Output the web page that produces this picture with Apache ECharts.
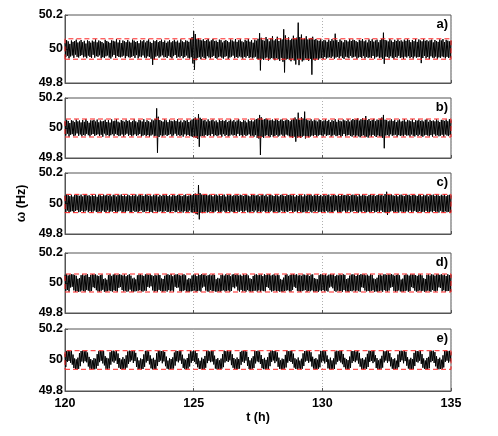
<!DOCTYPE html>
<html>
<head>
<meta charset="utf-8">
<script src="https://cdn.jsdelivr.net/npm/echarts@6/dist/echarts.min.js"></script>
<style>html,body{margin:0;padding:0;background:#fff}#c{width:498px;height:436px}</style>
</head>
<body>
<div id="c"></div>
<script>
// ---- data: deviations from 50 Hz in mHz, evenly sampled from t = 120 h to t = 135 h ----
const T_START = 120;
const T_END = 135;
const NOMINAL = 50;
const xTicks = [120, 125, 130, 135];
const yTicks = [49.8, 50, 50.2];
const bandLimits = [49.94, 50.06];
const panelLabels = ['a)', 'b)', 'c)', 'd)', 'e)'];

const devA = [
35,-48,52,-40,45,-55,30,-44,50,-38,42,-52,47,-33,55,-46,38,-50,44,-41,
53,-36,40,-49,48,-45,32,-54,51,-39,46,-47,37,-53,49,-34,43,-51,56,-42,
39,-46,50,-37,45,-55,41,-48,33,-52,54,-43,47,-38,42,-50,36,-56,51,-44,
48,-35,44,-53,57,-41,38,-47,52,-49,35,-45,50,-39,46,-54,40,-42,53,-48,
43,-51,37,-46,55,-40,49,-52,41,-36,47,-55,34,-44,51,-48,45,-38,52,-50,
38,-54,48,-43,56,-47,42,-57,35,-93,50,-62,46,-45,53,-39,40,-51,47,-44,
55,-37,41,-49,50,-46,36,-53,44,-40,52,-48,39,-55,46,-42,54,-35,43,-52,
49,-45,37,-50,56,-41,45,-54,40,-47,51,-38,48,-52,42,-56,60,-48,70,-85,
106,-122,88,-66,58,-52,62,-48,55,-60,50,-45,57,-53,47,-58,52,-42,59,-50,
44,-55,51,-47,58,-40,46,-53,49,-57,41,-48,55,-44,52,-51,38,-56,48,-46,
53,-42,47,-58,40,-50,56,-45,50,-39,44,-54,59,-47,42,-52,51,-43,57,-49,
45,-56,39,-46,54,-51,48,-41,58,-53,43,-48,52,-55,37,-50,55,-45,49,-58,
60,-62,93,-126,66,-58,52,-64,48,-55,70,-50,57,-68,45,-60,62,-53,75,-57,
50,-66,58,-54,72,-60,47,-70,63,-52,56,-75,116,-138,80,-62,55,-58,68,-65,
52,-72,60,-55,78,-68,62,-91,66,-62,155,-95,70,-60,85,-73,58,-66,62,-55,
75,-64,56,-70,60,-58,65,-151,72,-62,54,-68,59,-57,50,-63,48,-55,57,-52,
45,-58,53,-47,50,-56,42,-51,55,-48,46,-53,58,-44,49,-57,90,-50,52,-46,
41,-55,56,-43,48,-52,39,-58,53,-45,50,-49,44,-54,57,-40,47,-51,55,-48,
52,-44,46,-57,40,-50,54,-47,49,-53,58,-42,45,-55,51,-46,38,-52,56,-49,
47,-53,57,-41,43,-56,50,-48,55,-44,39,-54,52,-50,60,-58,96,-87,53,-45,
50,-47,44,-55,58,-43,49,-52,41,-57,54,-46,47,-51,56,-40,45,-53,51,-49,
43,-58,55,-45,48,-50,57,-42,52,-54,40,-47,53,-56,46,-44,59,-51,42,-48,
56,-46,50,-83,45,-53,57,-41,48,-55,52,-47,44,-58,51,-43,55,-50,39,-54,
53,-45,47,-57,42,-49,56,-52,50,-44,58,-48,41,-55,54,-46,49,-53,45,-51,
48];

const devB = [
42,-50,55,-38,47,-57,33,-45,52,-41,48,-54,39,-49,56,-36,44,-52,50,-43,
37,-55,53,-46,41,-51,58,-39,46,-48,35,-56,51,-44,49,-40,54,-53,43,-47,
56,-42,38,-53,50,-45,44,-58,47,-37,55,-50,40,-46,52,-55,36,-48,57,-41,
45,-52,49,-39,58,-47,42,-54,36,-50,53,-43,48,-57,41,-45,55,-38,46,-52,
51,-46,39,-55,47,-49,57,-42,44,-53,37,-48,54,-40,50,-56,43,-51,58,-45,
40,-54,52,-47,45,-58,38,-50,56,-43,49,-55,60,-52,131,-165,75,-60,53,-48,
47,-55,42,-50,57,-44,51,-53,39,-47,55,-41,48,-56,44,-49,53,-38,46,-52,
58,-45,41,-54,50,-48,37,-57,52,-42,47,-51,55,-46,40,-53,49,-55,56,-60,
62,-58,70,-66,58,-72,93,-125,68,-55,60,-52,49,-57,54,-46,42,-53,57,-48,
45,-52,51,-40,56,-55,43,-47,50,-54,38,-49,55,-44,47,-58,52,-41,46,-53,
54,-46,39,-56,48,-51,57,-43,44,-50,53,-47,41,-55,50,-39,58,-52,45,-48,
40,-57,52,-45,49,-53,37,-48,56,-42,46,-55,51,-50,43,-58,55,-47,60,-66,
64,-70,87,-180,72,-60,55,-66,58,-52,63,-48,57,-55,50,-61,52,-46,56,-58,
48,-53,60,-45,54,-57,47,-50,55,-43,58,-52,46,-59,51,-44,57,-49,53,-56,
45,-60,55,-66,62,-58,70,-91,57,-64,102,-60,55,-66,72,-58,63,-52,109,-70,
60,-55,52,-62,48,-57,58,-50,45,-53,55,-47,50,-58,42,-51,56,-46,53,-49,
44,-56,50,-42,57,-53,46,-48,54,-45,39,-57,52,-50,47,-44,58,-54,41,-51,
55,-47,48,-58,43,-52,56,-40,50,-55,45,-49,57,-46,42,-53,51,-57,60,-48,
52,-60,57,-50,64,-55,49,-62,58,-53,66,-48,55,-59,80,-57,52,-64,60,-50,
47,-58,54,-46,61,-52,45,-60,56,-49,52,-55,62,-57,70,-66,87,-135,55,-50,
53,-47,44,-56,50,-42,57,-52,46,-49,55,-44,40,-58,51,-47,56,-53,43,-50,
48,-55,58,-45,42,-51,54,-48,50,-57,45,-43,57,-52,39,-56,52,-46,49,-54,
56,-44,47,-53,51,-58,43,-49,55,-46,58,-50,41,-55,53,-47,46,-57,50,-42,
44,-52,57,-48,49,-55,40,-51,54,-45,52,-57,47,-43,56,-50,45,-54,58,-47,
51];

const devC = [
52,-57,59,-46,55,-58,48,-53,57,-50,45,-59,56,-49,58,-44,53,-57,50,-55,
58,-48,46,-58,55,-52,59,-45,51,-57,54,-50,47,-59,57,-53,49,-46,58,-56,
44,-55,57,-51,53,-59,48,-47,58,-54,52,-58,56,-45,50,-57,59,-52,46,-53,
57,-49,54,-58,45,-55,58,-51,52,-46,59,-57,49,-53,55,-59,47,-50,58,-48,
53,-56,48,-59,57,-47,51,-55,59,-52,46,-58,55,-50,58,-45,52,-57,49,-54,
59,-51,56,-48,50,-58,54,-55,47,-59,57,-46,53,-52,59,-57,45,-53,56,-50,
48,-58,57,-53,52,-47,59,-56,49,-54,55,-59,46,-51,58,-48,53,-57,50,-55,
56,-45,58,-57,51,-52,47,-59,55,-50,59,-54,48,-57,52,-46,57,-58,54,-60,
62,-58,65,-70,60,-72,121,-104,68,-60,58,-63,55,-57,60,-52,57,-59,53,-56,
58,-50,54,-57,47,-59,56,-52,59,-47,51,-55,57,-58,49,-53,55,-46,58,-57,
45,-54,59,-49,53,-58,57,-51,48,-56,55,-59,52,-47,58,-55,50,-53,57,-48,
54,-59,49,-52,58,-46,55,-57,51,-58,47,-54,59,-50,56,-57,53,-45,52,-59,
57,-51,46,-58,54,-53,59,-48,50,-56,58,-52,45,-59,55,-54,57,-47,52,-58,
49,-55,58,-50,53,-59,47,-57,56,-46,59,-53,51,-58,48,-52,57,-56,54,-49,
58,-47,52,-57,59,-54,45,-51,55,-59,50,-48,57,-55,53,-58,46,-57,59,-52,
51,-58,56,-46,54,-53,58,-59,48,-50,57,-55,52,-47,59,-57,49,-54,56,-58,
47,-53,59,-57,51,-48,55,-58,58,-52,46,-56,53,-59,57,-50,55,-45,50,-57,
57,-55,49,-59,58,-51,53,-47,56,-58,52,-54,59,-46,48,-57,55,-53,58,-50,
53,-48,57,-56,46,-59,59,-52,50,-55,58,-47,54,-58,51,-57,47,-53,56,-59,
59,-54,52,-49,57,-58,48,-56,55,-51,58,-59,53,-46,57,-55,50,-58,62,-60,
77,-75,58,-57,55,-52,59,-48,53,-58,50,-55,57,-53,47,-59,56,-50,58,-54,
52,-58,48,-55,59,-51,54,-57,57,-46,50,-59,55,-53,58,-48,53,-56,49,-58,
58,-50,55,-59,47,-54,57,-57,52,-48,59,-55,46,-58,56,-52,54,-57,58,-49,
50,-56,58,-53,54,-59,49,-47,57,-55,52,-58,59,-51,48,-57,55,-54,57,-59,
53];

const devD = [
55,-52,58,-47,50,-57,56,-30,58,-25,57,-49,53,-58,48,-55,28,-59,33,-56,
52,-50,57,-54,49,-58,55,-46,58,-51,40,-57,54,-53,59,-28,56,-34,57,-48,
50,-56,46,-58,53,-52,57,-45,26,-58,31,-57,22,-55,52,-50,58,-54,47,-57,
56,-49,59,-53,51,-58,55,-32,58,-27,54,-47,50,-56,57,-51,45,-58,53,-55,
58,-44,49,-57,29,-59,35,-56,24,-54,51,-52,56,-48,58,-55,52,-57,47,-50,
57,-53,58,-26,55,-31,59,-22,52,-49,46,-57,55,-54,50,-58,57,-46,53,-52,
30,-58,27,-56,48,-51,56,-57,58,-47,52,-55,59,-50,45,-58,54,-25,57,-33,
58,-29,53,-54,49,-57,56,-52,58,-48,51,-56,23,-59,32,-57,28,-55,50,-53,
55,-49,57,-58,46,-54,58,-51,53,-57,59,-30,55,-24,57,-50,48,-56,52,-58,
56,-47,50,-55,58,-53,54,-57,25,-58,34,-55,29,-59,53,-52,57,-48,49,-56,
58,-54,52,-49,57,-58,45,-53,56,-28,59,-35,54,-23,58,-50,51,-57,55,-46,
48,-56,57,-52,53,-58,59,-47,50,-55,31,-58,26,-56,47,-53,56,-50,58,-57,
52,-49,55,-58,57,-51,46,-54,58,-56,53,-27,57,-32,59,-48,50,-57,54,-53,
58,-50,49,-56,56,-53,52,-58,27,-57,22,-59,36,-54,55,-51,58,-48,47,-56,
54,-57,57,-46,59,-25,55,-33,58,-52,50,-56,53,-58,48,-54,57,-50,55,-47,
51,-58,58,-53,46,-55,56,-49,57,-57,33,-58,28,-55,24,-59,52,-50,58,-54,
57,-48,53,-56,58,-51,49,-57,55,-30,59,-24,56,-35,57,-52,46,-58,54,-50,
50,-55,57,-53,52,-58,58,-47,54,-56,26,-57,31,-59,49,-52,56,-55,58,-49,
55,-57,47,-50,57,-54,53,-58,59,-28,56,-32,58,-50,51,-56,55,-53,48,-57,
58,-52,54,-49,30,-58,25,-56,35,-59,52,-55,57,-51,49,-58,56,-47,58,-54,
53,-57,57,-50,56,-31,59,-26,55,-52,48,-58,54,-55,58,-49,51,-56,23,-58,
29,-57,52,-53,57,-50,55,-58,49,-54,58,-27,56,-34,57,-51,53,-57,47,-55,
56,-49,58,-56,51,-52,32,-58,27,-57,54,-50,57,-55,50,-58,58,-46,55,-53,
49,-57,57,-51,59,-29,54,-33,58,-55,52,-48,56,-57,47,-54,58,-52,53,-56,
55];

const devE = [
40,-45,58,-12,60,-6,57,-18,59,-30,35,-52,10,-58,4,-60,15,-57,45,-40,
58,-10,60,-20,56,-8,59,-15,48,-42,20,-56,6,-59,-2,-58,12,-60,8,-55,
38,-38,57,-14,60,-5,58,-22,59,-35,25,-57,14,-60,9,-55,50,-30,59,-9,
60,-17,56,-4,59,-26,42,-50,12,-58,3,-60,18,-56,7,-59,30,-49,55,-25,
60,-11,58,-2,57,-19,60,-7,46,-45,16,-59,-3,-57,10,-60,5,-58,36,-44,
59,-16,60,-6,55,-28,30,-54,8,-60,14,-57,1,-59,44,-38,58,-13,60,-4,
57,-21,59,-9,52,-40,22,-56,-4,-60,11,-58,6,-57,17,-55,48,-36,60,-8,
58,-15,57,-3,60,-24,34,-51,9,-59,2,-60,13,-56,40,-42,59,-18,56,-6,
60,-12,58,-27,45,-47,10,-58,-5,-57,15,-60,7,-59,26,-50,57,-20,60,-5,
55,-14,59,-10,58,-29,28,-55,5,-60,12,-58,-2,-59,9,-56,38,-46,60,-16,
57,-7,60,-13,56,-2,59,-33,37,-50,13,-57,4,-60,16,-58,6,-55,52,-31,
59,-11,58,-19,60,-4,54,-38,19,-58,-3,-60,10,-56,24,-52,58,-22,57,-9,
60,-14,55,-26,32,-53,6,-59,14,-60,1,-57,18,-58,47,-40,59,-12,60,-3,
58,-20,57,-8,49,-44,15,-57,-2,-60,9,-59,5,-55,33,-48,60,-17,56,-6,
59,-13,60,-24,41,-49,11,-58,3,-60,16,-56,-4,-59,8,-57,43,-39,58,-10,
60,-5,57,-18,59,-9,50,-42,21,-55,7,-60,12,-58,2,-57,36,-47,59,-15,
58,-8,60,-22,56,-12,29,-54,4,-59,15,-60,-3,-57,10,-58,55,-28,60,-11,
57,-4,59,-16,60,-27,39,-46,14,-57,6,-60,-1,-59,22,-51,57,-19,58,-7,
60,-14,55,-3,59,-23,46,-43,9,-58,13,-60,2,-56,17,-57,40,-45,60,-12,
58,-6,57,-20,60,-10,31,-52,12,-59,-2,-60,8,-57,27,-49,59,-15,56,-4,
60,-18,58,-8,44,-41,16,-56,5,-60,11,-58,-4,-57,35,-46,58,-13,60,-2,
57,-21,59,-7,53,-37,18,-55,3,-59,14,-60,6,-58,46,-39,60,-11,58,-16,
56,-5,60,-25,38,-50,10,-57,-3,-60,13,-59,20,-53,57,-14,59,-6,60,-19,
51,-41,24,-56,7,-60,15,-58,2,-57,30,-48,58,-12,60,-4,57,-17,59,-9,
50];

const panels = [devA, devB, devC, devD, devE];

// ---- layout (pixels) ----
const gridBoxes = [
  {top: 15, height: 68},
  {top: 98, height: 60},
  {top: 173, height: 61},
  {top: 253, height: 60},
  {top: 329, height: 62}
];
const FONT = '"Liberation Sans", Arial, Helvetica, sans-serif';
const chart = echarts.init(document.getElementById('c'), null, {renderer: 'canvas'});

const grid = [], xAxis = [], yAxis = [], series = [], title = [];
panels.forEach((dev, k) => {
  const last = k === panels.length - 1;
  const step = (T_END - T_START) / (dev.length - 1);
  grid.push({left: 65, right: 47, top: gridBoxes[k].top, height: gridBoxes[k].height,
    show: true, borderColor: '#555', borderWidth: 1, backgroundColor: '#fff'});
  xAxis.push({
    type: 'value', gridIndex: k, min: xTicks[0], max: xTicks[xTicks.length - 1],
    interval: xTicks[1] - xTicks[0],
    axisLine: {show: true, lineStyle: {color: '#555'}},
    axisTick: {show: true, inside: true, length: 3, lineStyle: {color: '#555'}},
    axisLabel: {show: last, margin: 6, color: '#000', fontFamily: FONT, fontWeight: 'bold', fontSize: 12.5},
    splitLine: {show: true, lineStyle: {color: '#b0b0b0', type: [1, 2], width: 1}},
    name: last ? 't (h)' : '', nameLocation: 'middle', nameGap: 17,
    nameTextStyle: {color: '#000', fontFamily: FONT, fontWeight: 'bold', fontSize: 12.5}
  });
  yAxis.push({
    type: 'value', gridIndex: k, min: yTicks[0], max: yTicks[yTicks.length - 1],
    interval: yTicks[1] - yTicks[0],
    axisLine: {show: true, lineStyle: {color: '#555'}},
    axisTick: {show: true, inside: true, length: 3, lineStyle: {color: '#555'}},
    axisLabel: {show: true, margin: 2, color: '#000', fontFamily: FONT, fontWeight: 'bold', fontSize: 12.5,
      formatter: v => String(Math.round(v * 10) / 10)},
    splitLine: {show: false},
    name: k === 2 ? 'ω (Hz)' : '', nameLocation: 'middle', nameGap: 28,
    nameTextStyle: {color: '#000', fontFamily: FONT, fontWeight: 'bold', fontSize: 12.5}
  });
  series.push({
    type: 'line', xAxisIndex: k, yAxisIndex: k, symbol: 'none', animation: false,
    data: dev.map((d, i) => [T_START + i * step, NOMINAL + d / 1000]),
    lineStyle: {color: '#000', width: 1}, z: 2
  });
  const x0 = xTicks[0], x1 = xTicks[xTicks.length - 1];
  series.push({
    type: 'line', xAxisIndex: k, yAxisIndex: k, symbol: 'none', animation: false, clip: false,
    data: [[x0, bandLimits[0]], [x1, bandLimits[0]], [x1, bandLimits[1]], [x0, bandLimits[1]], [x0, bandLimits[0]]],
    lineStyle: {color: '#f22', width: 1, type: [5, 3]}, z: 3
  });
  title.push({
    text: panelLabels[k], right: 50, top: gridBoxes[k].top + 3,
    padding: 0,
    textStyle: {color: '#000', fontFamily: FONT, fontWeight: 'bold', fontSize: 13}
  });
});

chart.setOption({animation: false, backgroundColor: '#fff', title, grid, xAxis, yAxis, series});
</script>
</body>
</html>
